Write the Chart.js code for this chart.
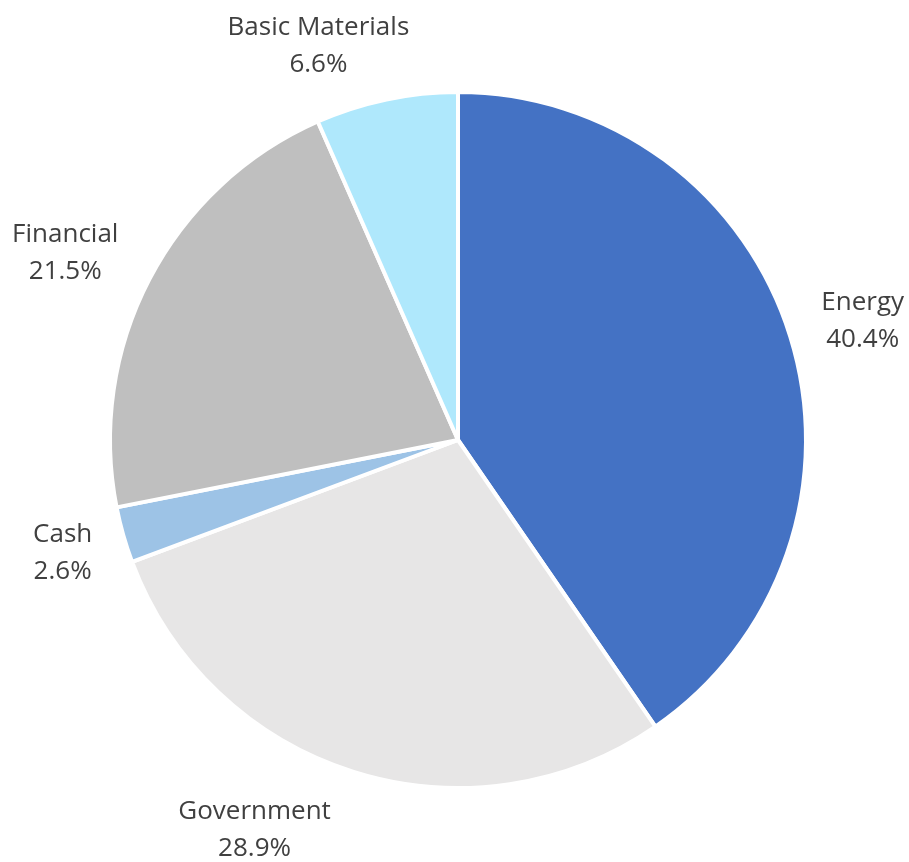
<!DOCTYPE html>
<html>
<head>
<meta charset="utf-8">
<script src="https://cdn.jsdelivr.net/npm/chart.js@4/dist/chart.umd.min.js"></script>
<style>
  html, body { margin: 0; padding: 0; background: #ffffff; }
  #wrap { width: 909px; height: 862px; position: relative; }
</style>
</head>
<body>
<div id="wrap"><canvas id="sectorChart"></canvas></div>
<script>
// sector allocation, clockwise from 12 o'clock
const sectors = ['Energy', 'Government', 'Cash', 'Financial', 'Basic Materials'];
const weights = [40.4, 28.9, 2.6, 21.5, 6.6];
const sliceColors = ['#4472C4', '#E7E6E6', '#9DC3E6', '#BFBFBF', '#AFE8FC'];

const labelFont = { family: '"Open Sans"', size: 26 };
const lineHeight = 37;

// draws "Name / xx.x%" outside each slice, office-style:
// side labels hug the pie horizontally, top/bottom labels hug it vertically
const outsideLabels = {
    id: 'outsideLabels',
    afterDatasetsDraw(chart) {
        const ctx = chart.ctx;
        const meta = chart.getDatasetMeta(0);
        ctx.save();
        ctx.font = labelFont.size + 'px ' + labelFont.family;
        ctx.fillStyle = '#404040';
        ctx.textAlign = 'center';
        ctx.textBaseline = 'alphabetic';
        const cap = labelFont.size * 0.72;

        meta.data.forEach((arc, i) => {
            const lines = [sectors[i], weights[i].toFixed(1) + '%'];
            const w = Math.max(...lines.map(t => ctx.measureText(t).width));
            const h = lineHeight * (lines.length - 1) + cap;
            const mid = (arc.startAngle + arc.endAngle) / 2;
            const dx = Math.cos(mid);
            const dy = Math.sin(mid);
            // point on the rim at the middle of the slice
            const px = arc.x + dx * arc.outerRadius;
            const py = arc.y + dy * arc.outerRadius;
            let cx, cy;
            if (Math.abs(dx) > Math.abs(dy)) {
                cx = dx > 0 ? px + 31 + w / 2 : px - 31 - w / 2;
                cy = py + dy * 60;
            } else {
                cy = dy > 0 ? py + 28 + h / 2 : py - 27 - h / 2;
                cx = px + dx * 330;
            }
            const firstBase = cy - h / 2 + cap;
            lines.forEach((t, j) => {
                ctx.fillText(t, cx, firstBase + j * lineHeight);
            });
        });
        ctx.restore();
    }
};

new Chart(document.getElementById('sectorChart'), {
    type: 'pie',
    data: {
        labels: sectors,
        datasets: [{
            data: weights,
            backgroundColor: sliceColors,
            borderColor: '#ffffff',
            borderWidth: 4
        }]
    },
    options: {
        responsive: true,
        maintainAspectRatio: false,
        animation: false,
        layout: {
            padding: { left: 108, right: 101, top: 90, bottom: 72 }
        },
        plugins: {
            legend: { display: false },
            tooltip: { enabled: false }
        }
    },
    plugins: [outsideLabels]
});
</script>
</body>
</html>
